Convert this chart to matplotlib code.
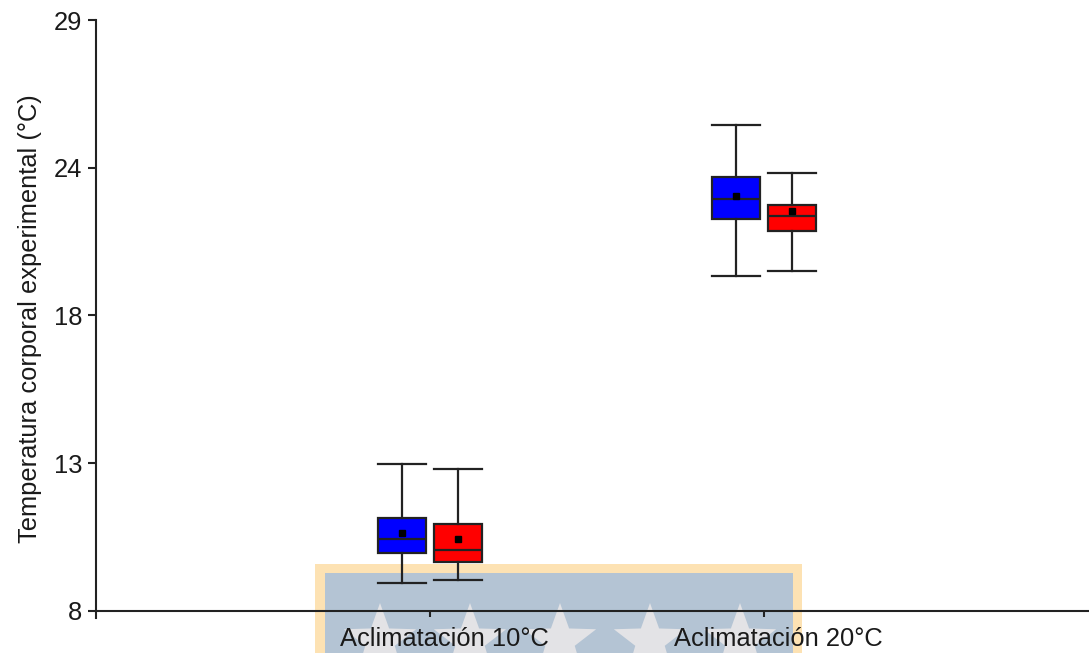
import numpy as np
import matplotlib
matplotlib.use("Agg")
import matplotlib.pyplot as plt
from matplotlib.patches import Rectangle, Polygon
from matplotlib.transforms import ScaledTranslation

plt.rcParams['font.family'] = ['Liberation Sans', 'DejaVu Sans']

# Groups and box statistics (°C)
groups = ["Aclimatación 10°C", "Aclimatación 20°C"]
series_colors = ["#0000ff", "#ff0000"]

blue_whislo = [8.98, 19.92]
blue_q1 = [10.07, 21.92]
blue_med = [10.57, 22.65]
blue_mean = [10.78, 22.75]
blue_q3 = [11.32, 23.43]
blue_whishi = [13.21, 25.28]

red_whislo = [9.10, 20.07]
red_q1 = [9.73, 21.51]
red_med = [10.18, 22.03]
red_mean = [10.55, 22.23]
red_q3 = [11.08, 22.42]
red_whishi = [13.04, 23.57]

ytick_values = [8, 13.25, 18.5, 23.75, 29]
ytick_labels = ["8", "13", "18", "24", "29"]

W, H = 1089, 653
fig = plt.figure(figsize=(W / 100, H / 100), dpi=100)

def px(x, y):
    return (x / W, (H - y) / H)

# Background emblem behind the plot
outer = Rectangle(px(315, 653), (802 - 315) / W, (653 - 564) / H,
                  transform=fig.transFigure, facecolor="#fde2b3",
                  edgecolor="none", zorder=-3)
inner = Rectangle(px(325, 653), (793 - 325) / W, (653 - 573) / H,
                  transform=fig.transFigure, facecolor="#b4c4d4",
                  edgecolor="none", zorder=-2)
fig.add_artist(outer)
fig.add_artist(inner)
R, r = 38, 15.5
ang_out = np.pi / 2 + np.arange(5) * 2 * np.pi / 5
ang_in = ang_out + np.pi / 5
for cx in [380, 470, 560, 650, 740]:
    cy = 641
    verts = []
    for ao, ai in zip(ang_out, ang_in):
        verts.append(px(cx + R * np.cos(ao), cy - R * np.sin(ao)))
        verts.append(px(cx + r * np.cos(ai), cy - r * np.sin(ai)))
    fig.add_artist(Polygon(verts, closed=True, transform=fig.transFigure,
                           facecolor="#e3e3e6", edgecolor="none", zorder=-1))

ax = fig.add_axes([96 / W, (H - 611 - 7) / H, 1 - 96 / W, (611 + 7 - 20) / H])
ax.set_facecolor("none")

offset = 0.084
width = 0.144
line_col = "#222222"

series = [
    (blue_whislo, blue_q1, blue_med, blue_mean, blue_q3, blue_whishi),
    (red_whislo, red_q1, red_med, red_mean, red_q3, red_whishi),
]
for s, (wlo, q1, med, mean, q3, whi) in enumerate(series):
    stats = []
    for i in range(len(groups)):
        stats.append(dict(whislo=wlo[i], q1=q1[i], med=med[i], mean=mean[i],
                          q3=q3[i], whishi=whi[i], fliers=[]))
    pos = [i + 1 + (-offset if s == 0 else offset) for i in range(len(groups))]
    ax.bxp(stats, positions=pos, widths=width, patch_artist=True,
           showmeans=True, showfliers=False,
           boxprops=dict(facecolor=series_colors[s], edgecolor=line_col, linewidth=1.6),
           medianprops=dict(color=line_col, linewidth=1.6),
           whiskerprops=dict(color=line_col, linewidth=1.6),
           capprops=dict(color=line_col, linewidth=1.6),
           capwidths=width,
           meanprops=dict(marker="s", markerfacecolor="black",
                          markeredgecolor="black", markersize=4.8))

ax.set_xlim(0, (W - 96) / 334)
ax.set_ylim(8 - 7 / 28.14, 29)
ax.spines['top'].set_visible(False)
ax.spines['right'].set_visible(False)
ax.spines['bottom'].set_position(('data', 8))
for sp in ['left', 'bottom']:
    ax.spines[sp].set_color(line_col)
    ax.spines[sp].set_linewidth(1.5)
ax.spines['left'].set_bounds(8 - 7 / 28.14, 29)

ax.set_yticks(ytick_values)
ax.set_yticklabels(ytick_labels)
ax.set_xticks([1, 2])
ax.set_xticklabels(groups)
ax.tick_params(axis='y', length=6, width=1.5, color=line_col, pad=4,
               labelsize=18.4, labelcolor="#1a1a1a")
ax.tick_params(axis='x', length=4.5, width=1.5, color=line_col, pad=7,
               labelsize=18.4, labelcolor="#1a1a1a")
# category labels sit slightly right of their ticks
shift = ScaledTranslation(14 / 100, 0, fig.dpi_scale_trans)
for lbl in ax.get_xticklabels():
    lbl.set_transform(lbl.get_transform() + shift)
ax.set_ylabel("Temperatura corporal experimental (°C)", fontsize=18.4,
              color="#1a1a1a", labelpad=8)

fig.savefig("out.png", dpi=100)
